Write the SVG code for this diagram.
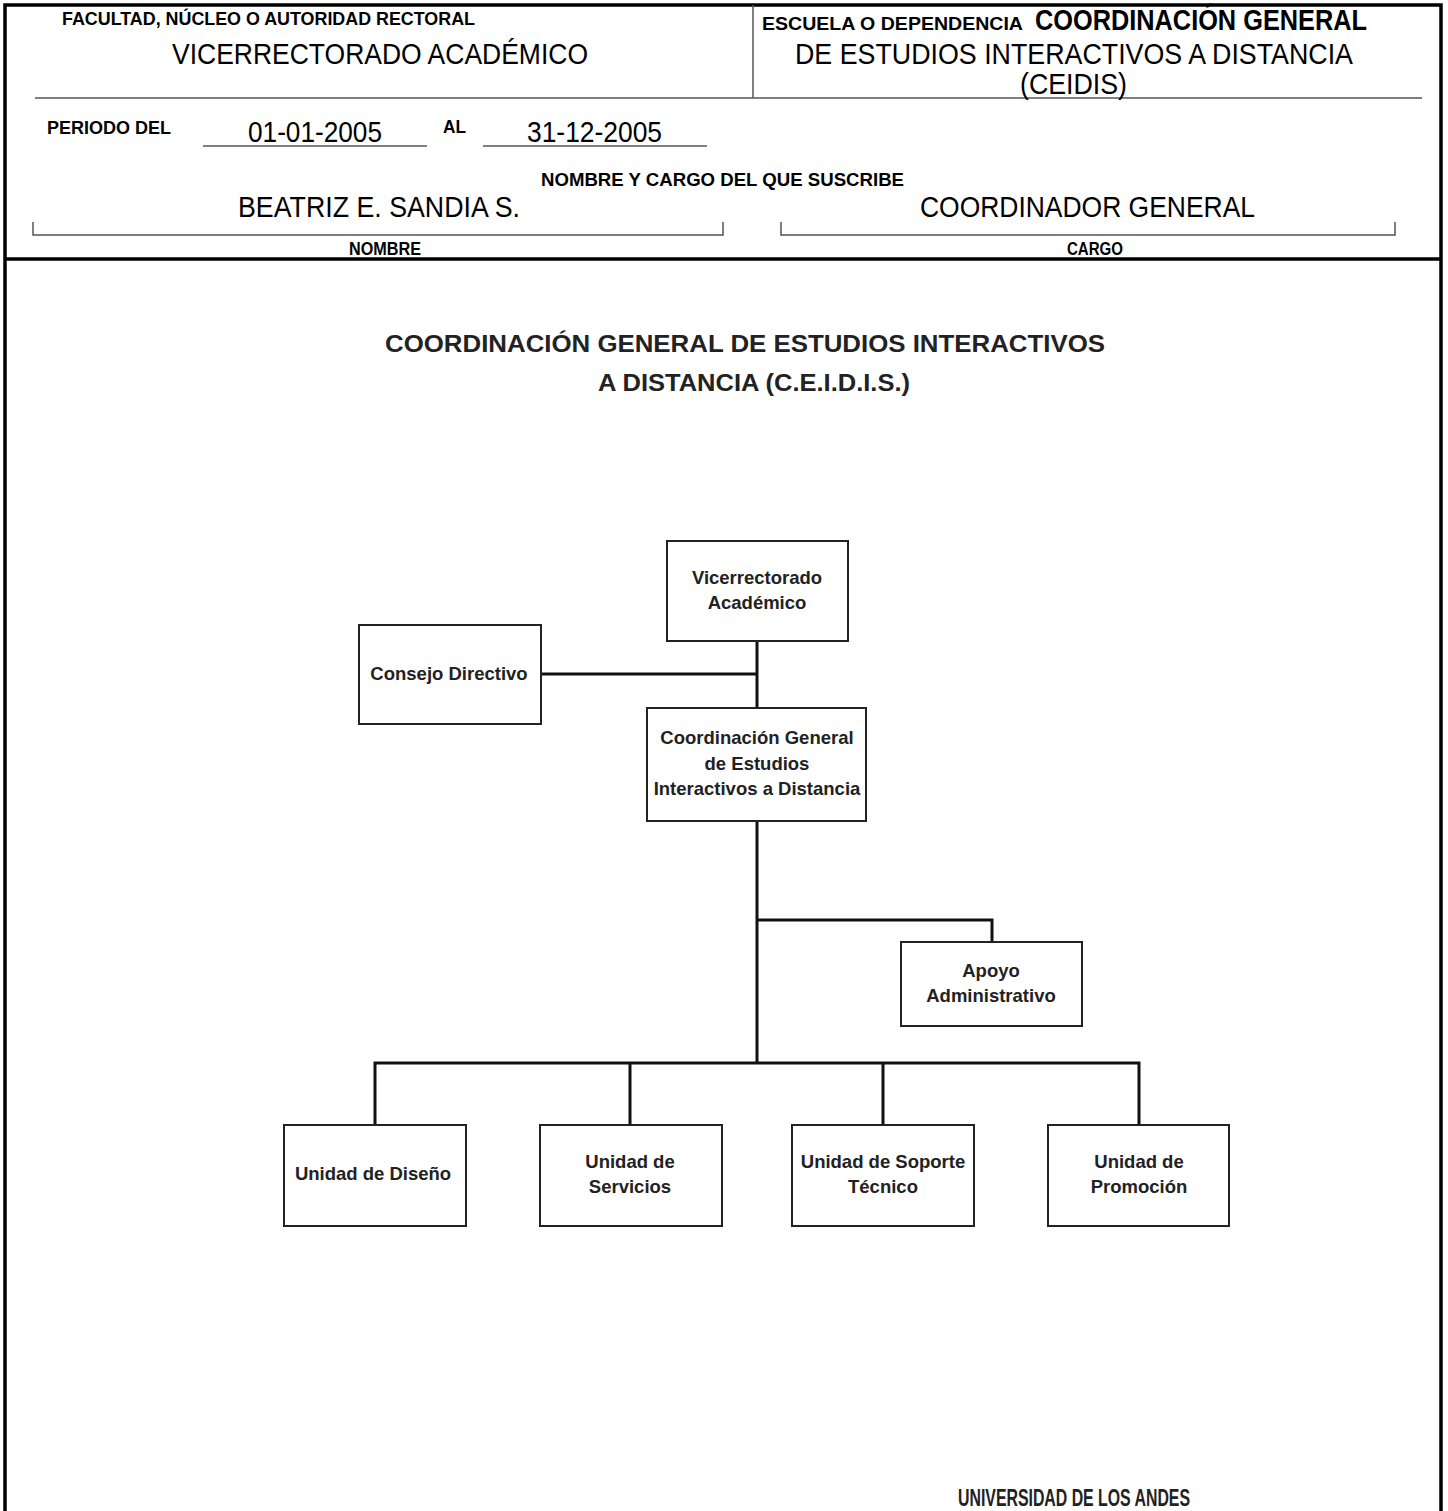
<svg xmlns="http://www.w3.org/2000/svg" width="1448" height="1511" viewBox="0 0 1448 1511">
<style>
.lbl{font-family:"Liberation Sans",Arial,sans-serif;font-weight:bold;font-size:18px;fill:#000}
.val{font-family:"Liberation Sans",Arial,sans-serif;font-size:29px;fill:#000}
.ttl{font-family:"Liberation Sans",Arial,sans-serif;font-weight:bold;font-size:24px;fill:#222}
.nt{font-family:"Liberation Sans",Arial,sans-serif;font-weight:bold;font-size:18.5px;fill:#222;text-anchor:middle}
.box{fill:#fff;stroke:#222;stroke-width:2}
.con{fill:none;stroke:#111;stroke-width:3}
.thin{fill:none;stroke:#555;stroke-width:1.5}
.frame{fill:none;stroke:#000;stroke-width:3.5}
</style>
<rect width="1448" height="1511" fill="#fff"/>
<g id="header">
<path class="frame" d="M5,1511 V5 H1441 V1511"/>
<path class="frame" d="M5,259 H1441"/>
<path class="thin" d="M753,5 V98 M35,98 H1422"/>
<path class="thin" d="M203,146 H427 M483,146 H707"/>
<path class="thin" d="M33,222 V235 H723 V222 M781,222 V235 H1395 V222"/>
<text class="lbl" x="62" y="25" textLength="413" lengthAdjust="spacingAndGlyphs">FACULTAD, NÚCLEO O AUTORIDAD RECTORAL</text>
<text class="val" x="172" y="64" textLength="416" lengthAdjust="spacingAndGlyphs">VICERRECTORADO ACADÉMICO</text>
<text class="lbl" x="762" y="30" textLength="261" lengthAdjust="spacingAndGlyphs">ESCUELA O DEPENDENCIA</text>
<text class="val" x="1035" y="30" font-weight="bold" font-size="26" textLength="332" lengthAdjust="spacingAndGlyphs">COORDINACIÓN GENERAL</text>
<text class="val" x="795" y="64" textLength="558" lengthAdjust="spacingAndGlyphs">DE ESTUDIOS INTERACTIVOS A DISTANCIA</text>
<text class="val" x="1020" y="94" textLength="107" lengthAdjust="spacingAndGlyphs">(CEIDIS)</text>
<text class="lbl" x="47" y="134" textLength="124" lengthAdjust="spacingAndGlyphs">PERIODO DEL</text>
<text class="val" x="248" y="142" textLength="134" lengthAdjust="spacingAndGlyphs">01-01-2005</text>
<text class="lbl" x="443" y="133" textLength="23" lengthAdjust="spacingAndGlyphs">AL</text>
<text class="val" x="527" y="142" textLength="135" lengthAdjust="spacingAndGlyphs">31-12-2005</text>
<text class="lbl" x="541" y="186" textLength="363" lengthAdjust="spacingAndGlyphs">NOMBRE Y CARGO DEL QUE SUSCRIBE</text>
<text class="val" x="238" y="217" textLength="282" lengthAdjust="spacingAndGlyphs">BEATRIZ E. SANDIA S.</text>
<text class="val" x="920" y="217" textLength="335" lengthAdjust="spacingAndGlyphs">COORDINADOR GENERAL</text>
<text class="lbl" x="349" y="255" textLength="72" lengthAdjust="spacingAndGlyphs">NOMBRE</text>
<text class="lbl" x="1067" y="255" textLength="56" lengthAdjust="spacingAndGlyphs">CARGO</text>
</g>
<g id="title">
<text class="ttl" x="385" y="352" textLength="720" lengthAdjust="spacingAndGlyphs">COORDINACIÓN GENERAL DE ESTUDIOS INTERACTIVOS</text>
<text class="ttl" x="598" y="391" textLength="312" lengthAdjust="spacingAndGlyphs">A DISTANCIA (C.E.I.D.I.S.)</text>
</g>
<g id="connectors">
<path class="con" d="M757,641 V708"/>
<path class="con" d="M541,674 H757"/>
<path class="con" d="M757,821 V1063"/>
<path class="con" d="M757,920 H992 V942"/>
<path class="con" d="M375,1125 V1063 H1139 V1125"/>
<path class="con" d="M630,1063 V1125 M883,1063 V1125"/>
</g>
<g id="n-vicerrectorado">
<rect class="box" x="667" y="541" width="181" height="100"/>
<text class="nt" x="757" y="584">Vicerrectorado</text>
<text class="nt" x="757" y="609">Académico</text>
</g>
<g id="n-consejo">
<rect class="box" x="359" y="625" width="182" height="99"/>
<text class="nt" x="449" y="680">Consejo Directivo</text>
</g>
<g id="n-coordinacion">
<rect class="box" x="647" y="708" width="219" height="113"/>
<text class="nt" x="757" y="744">Coordinación General</text>
<text class="nt" x="757" y="770">de Estudios</text>
<text class="nt" x="757" y="795">Interactivos a Distancia</text>
</g>
<g id="n-apoyo">
<rect class="box" x="901" y="942" width="181" height="84"/>
<text class="nt" x="991" y="977">Apoyo</text>
<text class="nt" x="991" y="1002">Administrativo</text>
</g>
<g id="n-diseno">
<rect class="box" x="284" y="1125" width="182" height="101"/>
<text class="nt" x="373" y="1180">Unidad de Diseño</text>
</g>
<g id="n-servicios">
<rect class="box" x="540" y="1125" width="182" height="101"/>
<text class="nt" x="630" y="1168">Unidad de</text>
<text class="nt" x="630" y="1193">Servicios</text>
</g>
<g id="n-soporte">
<rect class="box" x="792" y="1125" width="182" height="101"/>
<text class="nt" x="883" y="1168">Unidad de Soporte</text>
<text class="nt" x="883" y="1193">Técnico</text>
</g>
<g id="n-promocion">
<rect class="box" x="1048" y="1125" width="181" height="101"/>
<text class="nt" x="1139" y="1168">Unidad de</text>
<text class="nt" x="1139" y="1193">Promoción</text>
</g>
<g id="footer">
<text class="ttl" x="958" y="1506" font-size="21" fill="#000" textLength="232" lengthAdjust="spacingAndGlyphs">UNIVERSIDAD DE LOS ANDES</text>
</g>
</svg>
